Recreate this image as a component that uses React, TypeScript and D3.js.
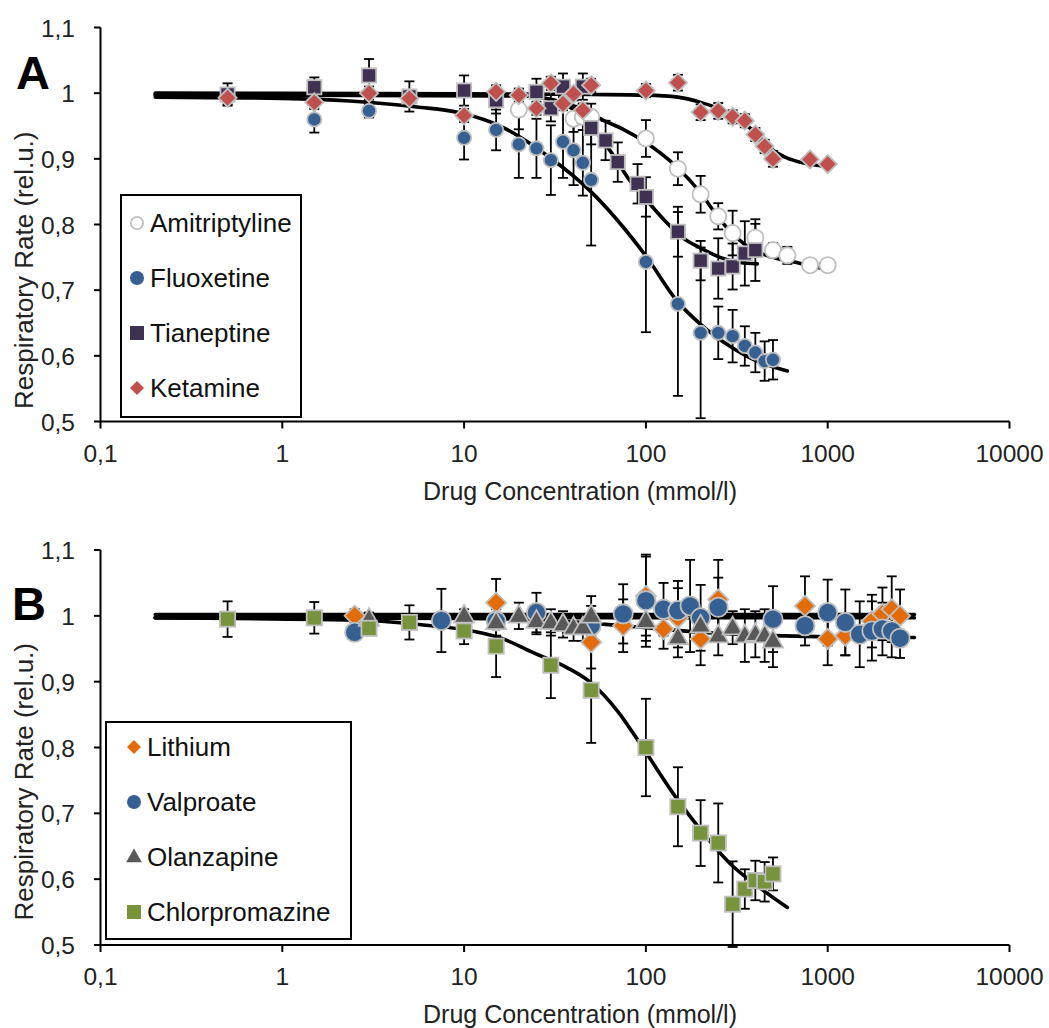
import React from 'react';
import * as d3 from 'd3';

// ---------- axis ticks ----------
const xTicks = [0.1, 1, 10, 100, 1000, 10000];
const xTickLabels = ['0,1', '1', '10', '100', '1000', '10000'];
const yTicks = [0.5, 0.6, 0.7, 0.8, 0.9, 1.0, 1.1];
const yTickLabels = ['0,5', '0,6', '0,7', '0,8', '0,9', '1', '1,1'];

// ---------- Panel A data ----------
const amiConc = [20, 40, 45, 50, 100, 150, 200, 250, 300, 400, 500, 600, 800, 1000];
const amiVal = [0.975, 0.961, 0.964, 0.964, 0.931, 0.885, 0.846, 0.8125, 0.787, 0.78, 0.761, 0.753, 0.738, 0.738];
const amiErr = [0.03, 0.02, 0.02, 0.02, 0.028, 0.025, 0.028, 0.02, 0.034, 0.021, 0.011, 0.013, 0.008, 0.008];

const fluConc = [1.5, 3, 10, 15, 20, 25, 30, 35, 40, 45, 50, 100, 150, 200, 250, 300, 350, 400, 450, 500];
const fluVal = [0.96, 0.973, 0.932, 0.944, 0.922, 0.916, 0.898, 0.926, 0.913, 0.894, 0.868, 0.743, 0.679, 0.635, 0.635, 0.63, 0.615, 0.605, 0.592, 0.594];
const fluErr = [0.02, 0.01, 0.033, 0.031, 0.051, 0.045, 0.053, 0.055, 0.053, 0.05, 0.1, 0.107, 0.14, 0.13, 0.04, 0.04, 0.03, 0.03, 0.03, 0.03];

const tiaConc = [0.5, 1.5, 3, 5, 10, 15, 25, 30, 35, 45, 50, 60, 70, 90, 100, 150, 200, 250, 300, 350, 400];
const tiaVal = [0.998, 1.009, 1.027, 0.995, 1.004, 0.989, 1.002, 0.977, 1.01, 1.01, 0.947, 0.928, 0.895, 0.862, 0.842, 0.789, 0.745, 0.733, 0.736, 0.756, 0.761];
const tiaErr = [0.017, 0.015, 0.025, 0.023, 0.023, 0.02, 0.02, 0.02, 0.02, 0.02, 0.025, 0.03, 0.03, 0.03, 0.03, 0.038, 0.03, 0.046, 0.035, 0.049, 0.047];

const ketConc = [0.5, 1.5, 3, 5, 10, 15, 20, 25, 30, 35, 40, 45, 50, 100, 150, 200, 250, 300, 350, 400, 450, 500, 800, 1000];
const ketVal = [0.993, 0.986, 1.0, 0.992, 0.966, 1.002, 0.997, 0.977, 1.015, 0.984, 0.999, 0.974, 1.012, 1.004, 1.016, 0.971, 0.973, 0.964, 0.958, 0.937, 0.919, 0.9, 0.899, 0.892];
const ketErr = [0.01, 0.01, 0.01, 0.01, 0.01, 0.01, 0.01, 0.01, 0.01, 0.01, 0.01, 0.01, 0.01, 0.01, 0.012, 0.012, 0.012, 0.01, 0.01, 0.01, 0.01, 0.012, 0.005, 0.005];

// fitted curves
const fitKetConc = [0.2, 10, 50, 100, 150, 200, 250, 300, 350, 400, 500, 600, 700, 1000];
const fitKetVal = [1.0, 0.999, 0.998, 0.997, 0.994, 0.986, 0.977, 0.966, 0.953, 0.94, 0.913, 0.901, 0.895, 0.888];
const fitAmiConc = [0.2, 20, 35, 45, 58, 75, 96, 150, 200, 250, 300, 390, 500, 700, 1000];
const fitAmiVal = [0.998, 0.996, 0.986, 0.975, 0.959, 0.945, 0.928, 0.886, 0.848, 0.811, 0.786, 0.761, 0.75, 0.741, 0.731];
const fitTiaConc = [0.2, 20, 30, 40, 51, 60, 69, 80, 98, 125, 159, 200, 256, 330, 410];
const fitTiaVal = [0.997, 0.996, 0.99, 0.975, 0.948, 0.922, 0.898, 0.87, 0.841, 0.808, 0.78, 0.764, 0.75, 0.742, 0.74];
const fitFluConc = [0.2, 1, 2.35, 5.5, 9.5, 16.3, 29.6, 49, 100, 150, 200, 300, 400, 600];
const fitFluVal = [0.994, 0.992, 0.988, 0.979, 0.97, 0.948, 0.902, 0.852, 0.752, 0.682, 0.648, 0.612, 0.593, 0.577];

// ---------- Panel B data ----------
const liConc = [2.5, 15, 50, 75, 100, 125, 150, 200, 250, 750, 1000, 1250, 1750, 2000, 2250, 2500];
const liVal = [1.0, 1.02, 0.96, 0.985, 1.03, 0.98, 0.997, 0.965, 1.025, 1.015, 0.965, 0.97, 0.992, 1.003, 1.01, 1.0];
const liErr = [0.01, 0.036, 0.04, 0.04, 0.06, 0.03, 0.045, 0.04, 0.06, 0.045, 0.04, 0.03, 0.04, 0.04, 0.05, 0.04];

const vpaConc = [2.5, 7.5, 15, 25, 50, 75, 100, 125, 150, 175, 200, 250, 500, 750, 1000, 1250, 1500, 1750, 2000, 2250, 2500];
const vpaVal = [0.975, 0.993, 0.992, 1.005, 0.985, 1.003, 1.023, 1.01, 1.008, 1.015, 0.997, 1.013, 0.995, 0.985, 1.005, 0.99, 0.972, 0.977, 0.98, 0.977, 0.966];
const vpaErr = [0.01, 0.048, 0.03, 0.03, 0.03, 0.045, 0.07, 0.04, 0.045, 0.07, 0.05, 0.045, 0.05, 0.03, 0.05, 0.05, 0.05, 0.045, 0.04, 0.04, 0.03];

const olaConc = [3, 10, 15, 20, 25, 30, 35, 40, 45, 50, 100, 150, 200, 250, 300, 350, 400, 450, 500];
const olaVal = [0.995, 1.0, 0.99, 1.0, 0.992, 0.99, 0.987, 0.982, 0.982, 1.0, 0.992, 0.967, 0.985, 0.97, 0.982, 0.97, 0.972, 0.97, 0.962];
const olaErr = [0.01, 0.01, 0.02, 0.02, 0.02, 0.02, 0.02, 0.02, 0.02, 0.03, 0.03, 0.03, 0.02, 0.03, 0.025, 0.04, 0.035, 0.04, 0.04];

const cpzConc = [0.5, 1.5, 3, 5, 10, 15, 30, 50, 100, 150, 200, 250, 300, 350, 400, 450, 500];
const cpzVal = [0.995, 0.997, 0.981, 0.99, 0.977, 0.954, 0.925, 0.887, 0.8, 0.71, 0.67, 0.655, 0.562, 0.585, 0.598, 0.596, 0.608];
const cpzErr = [0.027, 0.024, 0.01, 0.026, 0.02, 0.047, 0.05, 0.08, 0.074, 0.06, 0.05, 0.06, 0.065, 0.03, 0.03, 0.03, 0.025];

const fitLiConc = [0.2, 3000];
const fitLiVal = [1.002, 1.002];
const fitVpaConc = [0.2, 3000];
const fitVpaVal = [0.997, 0.997];
const fitOlaConc = [0.2, 10, 30, 60, 100, 200, 500, 1000, 3000];
const fitOlaVal = [0.997, 0.996, 0.993, 0.987, 0.982, 0.975, 0.97, 0.968, 0.967];
const fitCpzConc = [0.2, 3, 5, 11, 16, 24, 37, 49, 70, 96, 150, 200, 300, 400, 600];
const fitCpzVal = [0.997, 0.993, 0.988, 0.977, 0.966, 0.944, 0.921, 0.9, 0.855, 0.8, 0.72, 0.675, 0.62, 0.592, 0.557];

const FONT = '"Liberation Sans", Arial, sans-serif';
const GREY = '#bfbfbf';

type Shape = 'circle' | 'square' | 'diamond' | 'triangle';
interface Series { name: string; conc: number[]; val: number[]; err: number[]; shape: Shape; fill: string; size: number; }
interface Fit { conc: number[]; val: number[]; }

function markerEl(shape: Shape, x: number, y: number, size: number, fill: string, stroke: string | null, key?: any) {
  const sw = stroke ? 1.8 : 0;
  const s = size - sw;
  const common = { fill, stroke: stroke || 'none', strokeWidth: sw };
  if (shape === 'circle') return <circle key={key} cx={x} cy={y} r={s / 2} {...common} />;
  if (shape === 'square') return <rect key={key} x={x - s / 2} y={y - s / 2} width={s} height={s} {...common} />;
  if (shape === 'diamond') {
    const h = s / 2;
    return <path key={key} d={`M${x},${y - h}L${x + h},${y}L${x},${y + h}L${x - h},${y}Z`} {...common} />;
  }
  const w = s * 1.05, hh = s * 0.92;
  return <path key={key} d={`M${x},${y - hh * 0.62}L${x + w / 2},${y + hh * 0.38}L${x - w / 2},${y + hh * 0.38}Z`} {...common} />;
}

function Panel({ top, bottom, letter, letterX, letterY, series, fits, legend, titleEnd }: any) {
  const x = d3.scaleLog().domain([0.1, 10000]).range([100.5, 1009.5]);
  const y = d3.scaleLinear().domain([0.5, 1.1]).range([bottom, top]);
  const line = d3.line<[number, number]>().x(d => x(d[0])).y(d => y(d[1])).curve(d3.curveMonotoneX);
  const axisY = y(0.5);
  return (
    <g>
      <text x={letterX} y={letterY} fontFamily={FONT} fontWeight="bold" fontSize={47}>{letter}</text>
      {fits.map((f: Fit, i: number) => (
        <path key={'f' + i} d={line(f.conc.map((c, j) => [c, f.val[j]] as [number, number])) || ''} fill="none" stroke="#000" strokeWidth={3.6} strokeLinecap="round" />
      ))}
      {series.map((s: Series, i: number) => (
        <g key={'e' + i} stroke="#000" strokeWidth={1.8}>
          {s.conc.map((c, j) => {
            const cx = x(c), y1 = y(s.val[j] + s.err[j]), y2 = y(s.val[j] - s.err[j]);
            return (
              <g key={j}>
                <line x1={cx} x2={cx} y1={y1} y2={y2} />
                <line x1={cx - 5} x2={cx + 5} y1={y1} y2={y1} />
                <line x1={cx - 5} x2={cx + 5} y1={y2} y2={y2} />
              </g>
            );
          })}
        </g>
      ))}
      {series.map((s: Series, i: number) => (
        <g key={'m' + i}>
          {s.conc.map((c, j) => markerEl(s.shape, x(c), y(s.val[j]), s.size, s.fill, GREY, j))}
        </g>
      ))}
      <line x1={100.5} x2={100.5} y1={top} y2={axisY} stroke="#000" strokeWidth={2} />
      <line x1={100.5} x2={1009.5} y1={axisY} y2={axisY} stroke="#000" strokeWidth={2} />
      {yTicks.map((t, i) => (
        <g key={'yt' + i}>
          <line x1={94} x2={100.5} y1={y(t)} y2={y(t)} stroke="#000" strokeWidth={2} />
          <text x={75} y={y(t) + 9} textAnchor="end" fontFamily={FONT} fontSize={24.5} fill="#222">{yTickLabels[i]}</text>
        </g>
      ))}
      {xTicks.map((t, i) => (
        <g key={'xt' + i}>
          <line x1={x(t)} x2={x(t)} y1={axisY} y2={axisY + 7} stroke="#000" strokeWidth={2} />
          <text x={x(t)} y={axisY + 40} textAnchor="middle" fontFamily={FONT} fontSize={24.5} fill="#222">{xTickLabels[i]}</text>
        </g>
      ))}
      <text x={423} y={axisY + 78} fontFamily={FONT} fontSize={25} fill="#222">Drug Concentration (mmol/l)</text>
      <text transform={`translate(33,${titleEnd}) rotate(-90)`} textAnchor="end" fontFamily={FONT} fontSize={26} fill="#222">Respiratory Rate (rel.u.)</text>
      <rect x={legend.x} y={legend.y} width={legend.w} height={legend.h} fill="#fff" stroke="#000" strokeWidth={2} />
      {series.map((s: Series, i: number) => {
        const by = legend.firstBase + i * 55;
        return (
          <g key={'l' + i}>
            {markerEl(s.shape, legend.mx, by - 8.5, s.shape === 'triangle' ? 15 : 14, s.fill, s.fill === '#ffffff' ? GREY : null)}
            <text x={legend.tx} y={by} fontFamily={FONT} fontSize={26} fill="#111">{s.name}</text>
          </g>
        );
      })}
    </g>
  );
}

export default function App() {
  const seriesA: Series[] = [
    { name: 'Amitriptyline', conc: amiConc, val: amiVal, err: amiErr, shape: 'circle', fill: '#ffffff', size: 18 },
    { name: 'Fluoxetine', conc: fluConc, val: fluVal, err: fluErr, shape: 'circle', fill: '#366092', size: 16 },
    { name: 'Tianeptine', conc: tiaConc, val: tiaVal, err: tiaErr, shape: 'square', fill: '#3f3151', size: 16 },
    { name: 'Ketamine', conc: ketConc, val: ketVal, err: ketErr, shape: 'diamond', fill: '#c0504d', size: 20 },
  ];
  const fitsA: Fit[] = [
    { conc: fitFluConc, val: fitFluVal },
    { conc: fitTiaConc, val: fitTiaVal },
    { conc: fitAmiConc, val: fitAmiVal },
    { conc: fitKetConc, val: fitKetVal },
  ];
  const seriesB: Series[] = [
    { name: 'Lithium', conc: liConc, val: liVal, err: liErr, shape: 'diamond', fill: '#e36c09', size: 22 },
    { name: 'Valproate', conc: vpaConc, val: vpaVal, err: vpaErr, shape: 'circle', fill: '#366092', size: 21 },
    { name: 'Olanzapine', conc: olaConc, val: olaVal, err: olaErr, shape: 'triangle', fill: '#595959', size: 21 },
    { name: 'Chlorpromazine', conc: cpzConc, val: cpzVal, err: cpzErr, shape: 'square', fill: '#77933c', size: 17 },
  ];
  const fitsB: Fit[] = [
    { conc: fitLiConc, val: fitLiVal },
    { conc: fitVpaConc, val: fitVpaVal },
    { conc: fitOlaConc, val: fitOlaVal },
    { conc: fitCpzConc, val: fitCpzVal },
  ];
  return (
    <svg width={1049} height={1028} style={{ position: 'absolute', left: 0, top: 0, background: '#fff' }}>
      <rect width={1049} height={1028} fill="#fff" />
      <Panel top={27.5} bottom={421.5} letter="A" letterX={16} letterY={89} series={seriesA} fits={fitsA}
        legend={{ x: 121, y: 195, w: 180, h: 222, mx: 137, tx: 150, firstBase: 231.5 }} titleEnd={131.5} />
      <Panel top={550} bottom={945} letter="B" letterX={12} letterY={620} series={seriesB} fits={fitsB}
        legend={{ x: 106, y: 722, w: 245, h: 217, mx: 134, tx: 147, firstBase: 755.5 }} titleEnd={643} />
    </svg>
  );
}
